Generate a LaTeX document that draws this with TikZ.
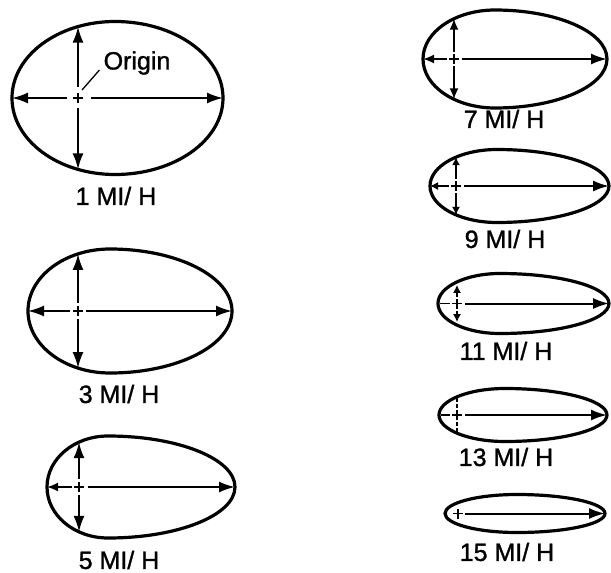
\documentclass[tikz,border=0pt]{standalone}
\usepackage{fontspec}
\setmainfont{Liberation Sans}
\newfontfamily\labfont{Liberation Sans}[FakeBold=1.2]
\usetikzlibrary{arrows.meta}
\tikzset{
  eggline/.style={line width=3.2pt},
  axisL/.style={line width=2pt, -{Latex[length=16pt,width=11pt]}},
  axisS/.style={line width=1.8pt, -{Latex[length=11pt,width=9pt]}},
  axisXS/.style={line width=1.5pt, -{Latex[length=8pt,width=8pt]}},
  plainax/.style={line width=1.6pt},
  dashax/.style={line width=1.4pt, dash pattern=on 4pt off 2pt},
  crossline/.style={line width=1.6pt},
  lab/.style={font=\labfont\fontsize{25}{28}\selectfont, inner sep=0pt},
  leader/.style={line width=1.3pt}
}
% #1 name, #2 xL, #3 xm, #4 xR, #5 cy, #6 b, #7 xv
\newcommand\eggshape[7]{%
  \pgfmathsetmacro\ea{#3-#2}%
  \pgfmathsetmacro\eb{#4-#3}%
  \pgfmathsetmacro\eh{#6*sqrt(1-((#3-#7)/\ea)^2)}%
  \draw[eggline] (#3,#5-#6) arc[start angle=90,end angle=270,x radius=\ea pt,y radius=#6pt]
     arc[start angle=270,end angle=450,x radius=\eb pt,y radius=#6pt] -- cycle;
  \coordinate (#1-c) at (#7,#5);
  \coordinate (#1-l) at (#2,#5);
  \coordinate (#1-r) at (#4,#5);
  \coordinate (#1-t) at (#7,#5-\eh);
  \coordinate (#1-b) at (#7,#5+\eh);
  \draw[crossline] ([xshift=-5pt]#1-c) -- ([xshift=5pt]#1-c)
                   ([yshift=-5pt]#1-c) -- ([yshift=5pt]#1-c);
}
\begin{document}
\begin{tikzpicture}[x=1pt,y=-1pt]
\useasboundingbox (0,0) rectangle (611,573);

% ---- 1 MI/H
\eggshape{e1}{12}{115}{223}{98}{76.5}{78}
\draw[axisL] ([xshift=13pt]e1-c) -- (e1-r);
\draw[axisL] ([xshift=-11pt]e1-c) -- (e1-l);
\draw[axisL] ([yshift=11pt]e1-c) -- (e1-t);
\draw[axisL] ([yshift=-10pt]e1-c) -- (e1-b);
\node[lab] (orig) at (137,63) {Origin};
\draw[leader] ([xshift=4pt,yshift=8pt]e1-c) -- ([xshift=-4pt,yshift=-7pt]orig.west);
\node[lab] (l1) at (116,196) {1 MI/ H};

% ---- 3 MI/H
\eggshape{e3}{28}{110}{232}{311}{62}{78}
\draw[axisL] ([xshift=8pt]e3-c) -- (e3-r);
\draw[axisL] ([xshift=-8pt]e3-c) -- (e3-l);
\draw[axisL] ([yshift=8pt]e3-c) -- (e3-t);
\draw[axisL] ([yshift=-8pt]e3-c) -- (e3-b);
\node[lab] (l3) at (119,394) {3 MI/ H};

% ---- 5 MI/H
\eggshape{e5}{47}{108}{235}{487}{51}{79}
\draw[axisL] ([xshift=9pt]e5-c) -- (e5-r);
\draw[axisS] ([xshift=-7pt]e5-c) -- (e5-l);
\draw[axisL] ([yshift=8pt]e5-c) -- (e5-t);
\draw[axisL] ([yshift=-8pt]e5-c) -- (e5-b);
\node[lab] (l5) at (119,560) {5 MI/ H};

% ---- 7 MI/H
\eggshape{e7}{423}{495}{607}{59}{49}{454}
\draw[axisL] ([xshift=8pt]e7-c) -- (e7-r);
\draw[axisS] ([xshift=-7pt]e7-c) -- (e7-l);
\draw[axisS] ([yshift=7pt]e7-c) -- (e7-t);
\draw[axisS] ([yshift=-7pt]e7-c) -- (e7-b);
\node[lab] (l7) at (504,119) {7 MI/ H};

% ---- 9 MI/H
\eggshape{e9}{430}{497}{609}{186}{36.5}{456}
\draw[axisL] ([xshift=8pt]e9-c) -- (e9-r);
\draw[axisXS] ([xshift=-7pt]e9-c) -- (e9-l);
\draw[axisXS] ([yshift=7pt]e9-c) -- (e9-t);
\draw[axisXS] ([yshift=-7pt]e9-c) -- (e9-b);
\node[lab] (l9) at (505,239) {9 MI/ H};

% ---- 11 MI/H
\eggshape{e11}{438}{500}{609}{303.5}{30}{457}
\draw[axisL] ([xshift=8pt]e11-c) -- (e11-r);
\draw[plainax] ([xshift=-7pt]e11-c) -- ([xshift=2pt]e11-l);
\draw[axisXS, shorten >=3pt] ([yshift=7pt]e11-c) -- (e11-t);
\draw[axisXS, shorten >=3pt] ([yshift=-7pt]e11-c) -- (e11-b);
\node[lab] (l11) at (506,351) {11 MI/ H};

% ---- 13 MI/H
\eggshape{e13}{439}{505}{607}{415}{26.5}{457}
\draw[axisL] ([xshift=8pt]e13-c) -- (e13-r);
\draw[plainax] ([xshift=-7pt]e13-c) -- ([xshift=2pt]e13-l);
\draw[dashax] ([yshift=7pt]e13-c) -- (e13-t);
\draw[dashax] ([yshift=-7pt]e13-c) -- (e13-b);
\node[lab] (l13) at (506,457) {13 MI/ H};

% ---- 15 MI/H
\eggshape{e15}{445}{517}{605}{513.5}{19}{458}
\draw[axisL] ([xshift=7pt]e15-c) -- (e15-r);
\node[lab] (l15) at (507,552) {15 MI/ H};
\end{tikzpicture}
\end{document}
